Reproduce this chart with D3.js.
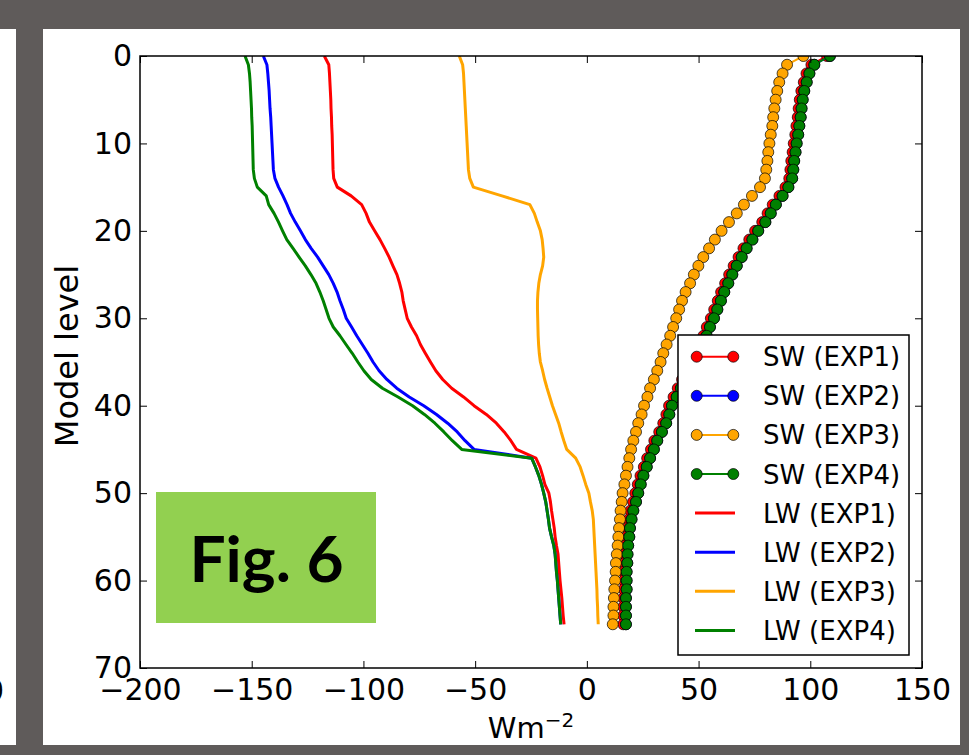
<!DOCTYPE html>
<html>
<head>
<meta charset="utf-8">
<script src="https://cdn.jsdelivr.net/npm/d3@7"></script>
<style>
  body { margin: 0; background: #5f5b5a; }
  svg { display: block; }
  text { font-family: "DejaVu Sans", sans-serif; }
</style>
</head>
<body>
<script>
// model levels (y) and fluxes in W m-2 (x)
const levels = [0,1,2,3,4,5,6,7,8,9,10,11,12,13,14,15,16,17,18,19,20,21,22,23,24,25,26,27,28,29,30,31,32,
  33,34,35,36,37,38,39,40,41,42,43,44,45,46,47,48,49,50,51,52,53,54,55,56,57,58,59,60,61,62,63,64,65];

const swExp1 = [107.5,100.5,98.3,97.1,96.0,95.3,94.8,94.4,93.8,93.3,
  92.6,92.1,91.5,91.1,90.6,88.9,86.2,83.2,80.9,78.5,
  75.3,72.7,70.1,67.9,65.7,63.7,61.9,60.1,58.6,57.0,
  55.5,53.7,52.2,50.3,48.4,46.5,44.6,42.6,40.7,38.8,
  36.8,35.6,34.2,32.4,30.2,28.7,27.0,25.5,24.0,22.8,
  21.7,20.7,19.5,18.7,18.0,17.7,17.2,16.9,16.8,16.5,
  16.5,16.5,16.3,16.3,16.3,16.3];
const swExp2 = [108.8,101.8,99.6,98.4,97.3,96.6,96.1,95.7,95.1,94.6,
  93.9,93.4,92.8,92.4,91.9,90.2,87.6,84.6,82.3,79.9,
  76.7,74.1,71.5,69.3,67.1,65.1,63.3,61.5,60.0,58.4,
  56.9,55.1,53.6,51.7,49.8,47.9,46.0,44.0,42.1,40.2,
  38.1,36.9,35.5,33.6,31.5,30.0,28.3,26.8,25.3,24.1,
  23.0,22.0,20.8,20.0,19.3,19.0,18.5,18.2,18.1,17.8,
  17.8,17.8,17.5,17.5,17.5,17.5];
const swExp3 = [96.9,89.6,87.6,86.1,85.2,84.5,83.9,83.4,83.0,82.3,
  81.7,81.2,80.8,80.3,79.7,77.5,73.9,70.3,67.1,63.6,
  60.3,57.3,54.7,52.1,49.9,47.9,46.2,44.2,42.6,41.3,
  40.0,38.6,37.3,35.7,34.2,33.0,31.5,30.0,28.3,27.1,
  25.6,24.5,23.0,22.0,20.8,19.8,19.0,18.2,17.5,16.8,
  16.0,15.6,15.1,14.8,14.4,14.1,13.8,13.4,13.0,12.9,
  12.6,12.3,12.1,11.9,11.9,11.6];
const swExp4 = [108.8,101.8,99.6,98.4,97.3,96.6,96.1,95.7,95.1,94.6,
  93.9,93.4,92.8,92.4,91.9,90.2,87.6,84.6,82.3,79.9,
  76.7,74.1,71.5,69.3,67.1,65.1,63.3,61.5,60.0,58.4,
  56.9,55.1,53.6,51.7,49.8,47.9,46.0,44.0,42.1,40.2,
  38.1,36.9,35.5,33.6,31.5,30.0,28.3,26.8,25.3,24.1,
  23.0,22.0,20.8,20.0,19.3,19.0,18.5,18.2,18.1,17.8,
  17.8,17.8,17.5,17.5,17.5,17.5];

const lwExp1 = [-117.5,-115.5,-115.2,-115.0,-114.8,-114.6,-114.5,-114.3,-114.2,-114.0,
  -113.9,-113.8,-113.7,-113.6,-113.3,-111.7,-105.5,-100.8,-98.8,-97.3,
  -95.0,-92.6,-90.5,-88.5,-86.8,-85.0,-83.8,-82.8,-82.2,-81.3,
  -80.4,-78.5,-76.2,-74.5,-72.3,-70.0,-67.6,-64.5,-60.5,-55.2,
  -50.5,-45.0,-40.5,-37.0,-34.0,-31.5,-22.8,-21.0,-19.8,-18.8,
  -17.0,-16.3,-15.8,-15.2,-14.6,-14.2,-13.6,-12.9,-12.6,-12.3,
  -12.0,-11.6,-11.2,-10.9,-10.6,-10.2];
const lwExp2 = [-144.8,-143.2,-142.8,-142.5,-142.2,-142.0,-141.8,-141.5,-141.3,-141.1,
  -140.9,-140.7,-140.5,-140.3,-139.6,-138.0,-136.0,-134.2,-132.6,-130.5,
  -128.2,-126.0,-123.4,-120.5,-118.0,-115.5,-113.5,-111.8,-110.5,-109.0,
  -107.7,-105.3,-103.0,-100.5,-98.0,-95.7,-93.0,-89.5,-85.1,-79.5,
  -73.0,-67.3,-62.3,-58.0,-54.5,-50.5,-24.7,-23.0,-21.5,-20.3,
  -19.3,-18.4,-17.8,-17.2,-16.7,-15.8,-14.8,-14.2,-13.9,-13.6,
  -13.2,-12.9,-12.6,-12.3,-12.0,-11.7];
const lwExp3 = [-57.1,-55.6,-55.2,-55.0,-54.8,-54.6,-54.4,-54.2,-54.0,-53.8,
  -53.6,-53.4,-53.2,-53.0,-52.4,-50.8,-38.0,-25.5,-23.5,-22.2,
  -20.8,-20.0,-19.6,-19.3,-19.8,-20.8,-21.5,-21.9,-22.1,-22.1,
  -22.0,-21.9,-21.8,-21.6,-21.3,-20.8,-19.8,-18.9,-17.8,-16.6,
  -15.4,-14.0,-12.6,-11.5,-10.3,-9.0,-5.0,-3.0,-1.7,-0.5,
  0.9,1.6,2.4,2.9,3.1,3.3,3.5,3.7,3.9,4.1,
  4.3,4.5,4.6,4.8,4.9,5.1];
const lwExp4 = [-153.0,-151.5,-151.0,-150.7,-150.5,-150.3,-150.1,-150.0,-149.8,-149.7,
  -149.6,-149.5,-149.4,-149.3,-148.8,-147.5,-143.5,-142.4,-140.0,-138.0,
  -136.2,-134.3,-131.5,-128.8,-126.0,-123.5,-121.2,-119.5,-118.0,-116.7,
  -115.4,-113.5,-110.5,-107.8,-105.0,-102.5,-99.8,-96.5,-91.5,-84.5,
  -78.0,-72.7,-68.0,-64.0,-60.2,-56.0,-24.7,-23.0,-21.5,-20.3,
  -19.3,-18.4,-17.8,-17.2,-16.7,-15.8,-14.8,-14.2,-13.9,-13.6,
  -13.2,-12.9,-12.6,-12.3,-12.0,-11.7];

const xTicks = [-200,-150,-100,-50,0,50,100,150];
const yTicks = [0,10,20,30,40,50,60,70];
const swLabels = ["SW (EXP1)","SW (EXP2)","SW (EXP3)","SW (EXP4)"];
const lwLabels = ["LW (EXP1)","LW (EXP2)","LW (EXP3)","LW (EXP4)"];
const colors = ["#ff0000","#0000ff","#ffa500","#008000"];

const width = 969, height = 755;
const plotL = 140, plotR = 922, plotT = 56, plotB = 668;

const x = d3.scaleLinear([-200,150],[plotL,plotR]);
const y = d3.scaleLinear([0,70],[plotT,plotB]);

const svg = d3.select('body').append('svg')
    .attr('width', width)
    .attr('height', height);

// white slide panels
svg.append('rect').attr('x',0).attr('y',29).attr('width',16).attr('height',716).attr('fill','#fff');
svg.append('rect').attr('x',43).attr('y',29).attr('width',917).attr('height',716).attr('fill','#fff');
// cut-off label of the neighbouring figure
svg.append('clipPath').attr('id','leftcut')
  .append('rect').attr('x',0).attr('y',29).attr('width',16).attr('height',716);
svg.append('text').attr('clip-path','url(#leftcut)')
    .attr('x',4).attr('y',701).attr('text-anchor','end')
    .style('font-size','30px').text('0');

svg.append('clipPath').attr('id','plotarea')
  .append('rect').attr('x',plotL).attr('y',plotT).attr('width',plotR-plotL).attr('height',plotB-plotT);

const plot = svg.append('g').attr('clip-path','url(#plotarea)');

const line = d3.line()
    .x(d => x(d[0]))
    .y(d => y(d[1]));

const swSeries = [swExp1, swExp2, swExp3, swExp4];
const lwSeries = [lwExp1, lwExp2, lwExp3, lwExp4];

swSeries.forEach((s, i) => {
  const pts = s.map((v, k) => [v, levels[k]]);
  plot.append('path')
      .datum(pts)
      .attr('d', line)
      .attr('fill','none')
      .attr('stroke', colors[i])
      .attr('stroke-width', 2);
  plot.append('g').selectAll('circle')
      .data(pts)
      .join('circle')
      .attr('cx', d => x(d[0]))
      .attr('cy', d => y(d[1]))
      .attr('r', 5.5)
      .attr('fill', colors[i])
      .attr('stroke', '#000')
      .attr('stroke-width', 0.7);
});

lwSeries.forEach((s, i) => {
  plot.append('path')
      .datum(s.map((v, k) => [v, levels[k]]))
      .attr('d', line)
      .attr('fill','none')
      .attr('stroke', colors[i])
      .attr('stroke-width', 3)
      .attr('stroke-linejoin','round');
});

// axes, ticks pointing inward on all four sides
const axB = svg.append('g').attr('transform', `translate(0,${plotB})`)
    .call(d3.axisBottom(x).tickValues(xTicks).tickSize(-7).tickPadding(11)
      .tickFormat(d => d3.format('d')(d).replace('-','\u2212')));
const axT = svg.append('g').attr('transform', `translate(0,${plotT})`)
    .call(d3.axisTop(x).tickValues(xTicks).tickSize(-7).tickFormat(''));
const axL = svg.append('g').attr('transform', `translate(${plotL},0)`)
    .call(d3.axisLeft(y).tickValues(yTicks).tickSize(-7).tickPadding(8));
const axR = svg.append('g').attr('transform', `translate(${plotR},0)`)
    .call(d3.axisRight(y).tickValues(yTicks).tickSize(-7).tickFormat(''));

[axB, axT, axL, axR].forEach(a => {
  a.select('.domain').remove();
  a.selectAll('line').attr('stroke','#000').attr('stroke-width',1);
  a.selectAll('text').attr('fill','#000')
      .style('font-family','"DejaVu Sans", sans-serif')
      .style('font-size','30px');
});

svg.append('rect')
    .attr('x', plotL).attr('y', plotT)
    .attr('width', plotR-plotL).attr('height', plotB-plotT)
    .attr('fill','none').attr('stroke','#000').attr('stroke-width',1.5);

// axis labels
const xl = svg.append('text')
    .attr('x', 531).attr('y', 738)
    .attr('text-anchor','middle')
    .style('font-size','29px');
xl.append('tspan').text('Wm');
xl.append('tspan').attr('dy',-11).style('font-size','20px').text('\u22122');

svg.append('text')
    .attr('transform','translate(78,356) rotate(-90)')
    .attr('text-anchor','middle')
    .style('font-size','32px')
    .text('Model level');

// legend
const lg = svg.append('g');
lg.append('rect')
    .attr('x',678).attr('y',335).attr('width',231).attr('height',320)
    .attr('fill','#fff').attr('stroke','#000').attr('stroke-width',1.5);

const entries = swLabels.map((t, i) => ({label: t, color: colors[i], marker: true}))
  .concat(lwLabels.map((t, i) => ({label: t, color: colors[i], marker: false})));

entries.forEach((e, i) => {
  const ry = 356.7 + i * 39.1;
  const g = lg.append('g');
  if (e.marker) {
    g.append('line').attr('x1',696.7).attr('x2',733.3).attr('y1',ry).attr('y2',ry)
        .attr('stroke', e.color).attr('stroke-width',2);
    [696.7, 733.3].forEach(cx => {
      g.append('circle').attr('cx',cx).attr('cy',ry).attr('r',5.5)
          .attr('fill', e.color).attr('stroke','#000').attr('stroke-width',0.7);
    });
  } else {
    g.append('line').attr('x1',695).attr('x2',735).attr('y1',ry).attr('y2',ry)
        .attr('stroke', e.color).attr('stroke-width',3);
  }
  g.append('text').attr('x',763).attr('y',ry + 9.5)
      .style('font-size','26px').text(e.label);
});

// figure tag
svg.append('rect')
    .attr('x',156).attr('y',492).attr('width',220).attr('height',131)
    .attr('fill','#92d050');
svg.append('text')
    .attr('x',266.5).attr('y',582)
    .attr('text-anchor','middle')
    .style('font-family','Lato, "Open Sans", sans-serif')
    .style('font-weight','bold')
    .style('font-size','64px')
    .attr('fill','#000')
    .text('Fig. 6');
</script>
</body>
</html>
